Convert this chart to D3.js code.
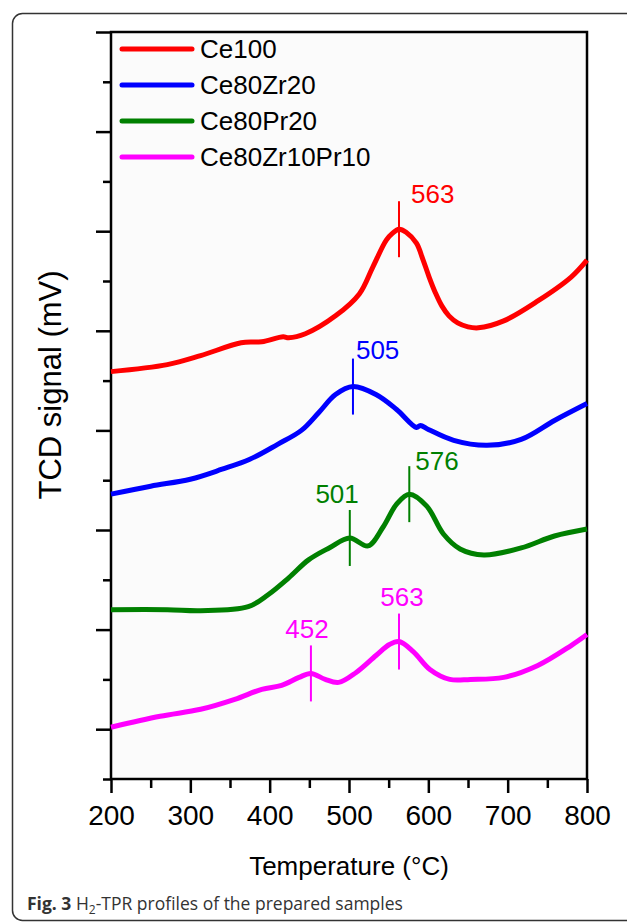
<!DOCTYPE html>
<html>
<head>
<meta charset="utf-8">
<script src="https://d3js.org/d3.v7.min.js"></script>
<style>
  body { margin: 0; background: #fff; }
  svg { display: block; }
</style>
</head>
<body>
<div id="chart"></div>
<script>

// series: [temperature (°C), signal (arb. units)]
var ce100 = [[200,3.59],[271,3.66],[313,3.75],[364,3.88],[390,3.89],[417,3.94],[424,3.93],[445,3.97],[483,4.15],[513,4.37],[530,4.64],[547,4.91],[555,4.98],[563,5.02],[572,4.99],[585,4.88],[593,4.72],[601,4.54],[609,4.38],[617,4.25],[626,4.15],[637,4.08],[650,4.04],[663,4.03],[695,4.10],[738,4.30],[780,4.54],[800,4.71]];
var ce80zr20 = [[200,2.36],[250,2.44],[300,2.51],[340,2.61],[375,2.71],[410,2.86],[440,3.00],[462,3.18],[483,3.36],[505,3.44],[534,3.36],[560,3.21],[585,3.03],[590,3.05],[600,3.01],[632,2.90],[674,2.85],[717,2.91],[759,3.10],[800,3.27]];
var ce80pr20 = [[200,1.20],[271,1.20],[313,1.19],[373,1.23],[398,1.35],[424,1.52],[449,1.70],[475,1.82],[501,1.92],[524,1.84],[543,2.03],[560,2.26],[576,2.36],[598,2.24],[619,1.96],[640,1.81],[670,1.75],[717,1.82],[759,1.94],[800,2.01]];
var ce80zr10pr10 = [[200,0.02],[262,0.13],[313,0.20],[356,0.30],[390,0.40],[415,0.44],[437,0.52],[452,0.56],[470,0.50],[487,0.47],[509,0.57],[534,0.74],[551,0.85],[563,0.88],[581,0.78],[602,0.60],[627,0.50],[653,0.50],[695,0.52],[738,0.64],[780,0.84],[800,0.95]];

var names = ["Ce100", "Ce80Zr20", "Ce80Pr20", "Ce80Zr10Pr10"];
var colors = ["#ff0000", "#0000ff", "#008000", "#ff00ff"];
var seriesData = [ce100, ce80zr20, ce80pr20, ce80zr10pr10];

// peak markers: series index, temperature
var peakSeries = [0, 1, 2, 2, 3, 3];
var peakTemps = [563, 505, 501, 576, 452, 563];

var xTicks = [200, 300, 400, 500, 600, 700, 800];

var width = 627, height = 923;
var plotL = 111, plotR = 587, plotT = 32, plotB = 779;

var svg = d3.select("#chart").append("svg")
  .attr("width", width)
  .attr("height", height);

// outer figure frame
svg.append("rect")
  .attr("x", 12.5).attr("y", 13.5)
  .attr("width", 640).attr("height", 907)
  .attr("rx", 10)
  .attr("fill", "none")
  .attr("stroke", "#333")
  .attr("stroke-width", 1.5);

var x = d3.scaleLinear().domain([200, 800]).range([plotL, plotR]);
var y = d3.scaleLinear().domain([-0.5, 7]).range([plotB, plotT]);

// plot background
svg.append("rect")
  .attr("x", plotL).attr("y", plotT)
  .attr("width", plotR - plotL).attr("height", plotB - plotT)
  .attr("fill", "#fbfbfb");

// minor / major y ticks (no labels)
svg.append("g")
  .attr("transform", "translate(" + plotL + ",0)")
  .call(d3.axisLeft(y).tickValues(d3.range(-0.5, 7, 1)).tickSize(8).tickFormat(""))
  .call(function(g) { g.select(".domain").remove(); });
svg.append("g")
  .attr("transform", "translate(" + plotL + ",0)")
  .call(d3.axisLeft(y).tickValues(d3.range(0, 7.5, 1)).tickSize(15).tickFormat(""))
  .call(function(g) { g.select(".domain").remove(); });

// x axis
svg.append("g")
  .attr("transform", "translate(0," + plotB + ")")
  .call(d3.axisBottom(x).tickValues(d3.range(250, 800, 100)).tickSize(9).tickFormat(""))
  .call(function(g) { g.select(".domain").remove(); });
var xAxis = svg.append("g")
  .attr("transform", "translate(0," + plotB + ")")
  .call(d3.axisBottom(x).tickValues(xTicks).tickSize(14).tickFormat(d3.format("d")))
  .call(function(g) { g.select(".domain").remove(); });
xAxis.selectAll("text")
  .attr("y", 26)
  .attr("dy", "0.71em")
  .style("font-family", "'Liberation Sans', Arial, sans-serif")
  .style("font-size", "28px")
  .attr("fill", "#000");

svg.selectAll(".tick line")
  .attr("stroke", "#000")
  .attr("stroke-width", 2.5);

// frame of plot
svg.append("rect")
  .attr("x", plotL).attr("y", plotT)
  .attr("width", plotR - plotL).attr("height", plotB - plotT)
  .attr("fill", "none")
  .attr("stroke", "#000")
  .attr("stroke-width", 2.5);

// curves
var line = d3.line()
  .x(function(d) { return x(d[0]); })
  .y(function(d) { return y(d[1]); })
  .curve(d3.curveCatmullRom.alpha(0.5));

svg.append("g").selectAll("path")
  .data(seriesData)
  .enter().append("path")
  .attr("d", line)
  .attr("fill", "none")
  .attr("stroke", function(d, i) { return colors[i]; })
  .attr("stroke-width", 5)
  .attr("stroke-linejoin", "round");

// peak markers
function valueAt(data, t) {
  var i = d3.bisector(function(d) { return d[0]; }).left(data, t);
  if (i <= 0) return data[0][1];
  var a = data[i - 1], b = data[i];
  return a[1] + (b[1] - a[1]) * (t - a[0]) / (b[0] - a[0]);
}

// label placement relative to marker top: dx, dy, anchor
var labelPlace = [[12, 2, "start"], [3, 0, "start"], [9, -7, "end"], [6, 4, "start"], [-4, -7, "middle"], [3, -8, "middle"]];

peakTemps.forEach(function(t, k) {
  var s = peakSeries[k];
  var cx = x(t);
  var cy = y(valueAt(seriesData[s], t));
  var y0 = cy - 28, y1 = cy + 28;
  svg.append("line")
    .attr("x1", cx).attr("x2", cx)
    .attr("y1", y0).attr("y2", y1)
    .attr("stroke", colors[s])
    .attr("stroke-width", 2);
  svg.append("text")
    .attr("x", cx + labelPlace[k][0])
    .attr("y", y0 + labelPlace[k][1])
    .attr("text-anchor", labelPlace[k][2])
    .style("font-family", "'Liberation Sans', Arial, sans-serif")
    .style("font-size", "26px")
    .attr("fill", colors[s])
    .text(t);
});

// legend
var legend = svg.append("g").selectAll("g")
  .data(names)
  .enter().append("g")
  .attr("transform", function(d, i) { return "translate(122," + (49 + i * 36) + ")"; });
legend.append("line")
  .attr("x1", 0).attr("x2", 70)
  .attr("stroke", function(d, i) { return colors[i]; })
  .attr("stroke-width", 5)
  .attr("stroke-linecap", "round");
legend.append("text")
  .attr("x", 78).attr("y", 9)
  .style("font-family", "'Liberation Sans', Arial, sans-serif")
  .style("font-size", "26px")
  .attr("fill", "#000")
  .text(function(d) { return d; });

// axis titles
svg.append("text")
  .attr("x", (plotL + plotR) / 2)
  .attr("y", 875)
  .attr("text-anchor", "middle")
  .style("font-family", "'Liberation Sans', Arial, sans-serif")
  .style("font-size", "26px")
  .text("Temperature (°C)");

svg.append("text")
  .attr("transform", "translate(61,385) rotate(-90)")
  .attr("text-anchor", "middle")
  .style("font-family", "'Liberation Sans', Arial, sans-serif")
  .style("font-size", "31px")
  .text("TCD signal (mV)");

// caption
var cap = svg.append("text")
  .attr("x", 27).attr("y", 910)
  .style("font-family", "'Open Sans', sans-serif")
  .style("font-size", "17.5px")
  .attr("fill", "#333");
cap.append("tspan").style("font-weight", "bold").text("Fig. 3");
cap.append("tspan").text(" H");
cap.append("tspan").attr("dy", 4).style("font-size", "12px").text("2");
cap.append("tspan").attr("dy", -4).text("-TPR profiles of the prepared samples");

</script>
</body>
</html>
